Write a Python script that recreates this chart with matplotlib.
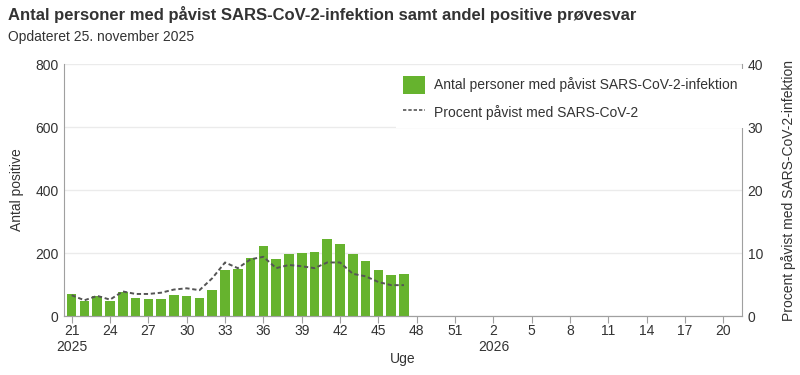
import matplotlib
matplotlib.use("Agg")
import matplotlib.pyplot as plt
from matplotlib.lines import Line2D
from matplotlib.patches import Patch

plt.rcParams['font.family'] = ['Liberation Sans', 'DejaVu Sans']

# Data
weeks_2025 = list(range(21, 53))
weeks_2026 = list(range(1, 22))
axis_weeks = weeks_2025 + weeks_2026
data_weeks = list(range(21, 48))
antal = [70, 48, 63, 48, 75, 57, 54, 54, 67, 63, 57, 83, 146, 149, 184, 222,
         181, 197, 200, 203, 244, 229, 197, 175, 146, 130, 133]
procent = [3.3, 2.5, 3.2, 2.6, 3.9, 3.5, 3.5, 3.7, 4.2, 4.4, 4.1, 6.0, 8.5, 7.6,
           9.0, 9.4, 7.6, 8.1, 7.9, 7.6, 8.5, 8.5, 6.7, 6.3, 5.4, 4.9, 4.9]
year_labels = {"2025": 21, "2026": 2}

bar_color = '#66b32e'
line_color = '#555555'
grid_color = '#ebebeb'
axis_color = '#a0a0a0'
text_color = '#333333'
fs = 10

fig = plt.figure(figsize=(8, 3.75), dpi=100)
ax = fig.add_axes([0.08, 0.1573, 0.8475, 0.672])
ax2 = ax.twinx()

xpos = [axis_weeks.index(w) for w in data_weeks]
ax.bar(xpos, antal, width=0.75, color=bar_color, zorder=3)
ax2.plot(xpos, procent, color=line_color, linestyle=(0, (2.2, 1.4)), linewidth=1.4, zorder=4)

ax.set_xlim(-0.6, 52.45)
ax.set_ylim(0, 800)
ax2.set_ylim(0, 40)
ax.set_yticks([0, 200, 400, 600, 800])
ax2.set_yticks([0, 10, 20, 30, 40])
ax.yaxis.grid(True, color=grid_color, linewidth=1, zorder=0)
ax.set_axisbelow(True)

tick_idx = list(range(0, len(axis_weeks), 3))
ax.set_xticks(tick_idx)
ax.set_xticklabels([str(axis_weeks[i]) for i in tick_idx])

for a in (ax, ax2):
    a.spines['top'].set_visible(False)
    a.spines['left'].set_color(axis_color)
    a.spines['right'].set_color(axis_color)
    a.spines['bottom'].set_color(axis_color)
    a.tick_params(axis='y', length=0, labelsize=fs, labelcolor=text_color, pad=4)
ax.tick_params(axis='x', length=5, color=axis_color, labelsize=fs, labelcolor=text_color, pad=1)
ax2.spines['left'].set_visible(False)
ax.spines['right'].set_visible(False)

# year labels
for yl, w in year_labels.items():
    idx = axis_weeks.index(w, 0 if yl == "2025" else 32)
    ax.text(idx, -0.096, yl, transform=ax.get_xaxis_transform(), ha='center', va='top',
            fontsize=fs, color=text_color)

ax.set_xlabel('Uge', fontsize=fs, color=text_color, labelpad=10)
ax.set_ylabel('Antal positive', fontsize=fs, color=text_color, labelpad=8)
ax2.set_ylabel('Procent påvist med SARS-CoV-2-infektion', fontsize=fs, color=text_color, labelpad=13)

fig.text(0.01, 0.985, 'Antal personer med påvist SARS-CoV-2-infektion samt andel positive prøvesvar',
         fontsize=12, fontweight='bold', color=text_color, ha='left', va='top')
fig.text(0.01, 0.92, 'Opdateret 25. november 2025', fontsize=fs, color=text_color, ha='left', va='top')

handles = [Patch(facecolor=bar_color, edgecolor='none'),
           Line2D([0], [0], color=line_color, linestyle=(0, (2, 1.2)), linewidth=1.2)]
labels = ['Antal personer med påvist SARS-CoV-2-infektion', 'Procent påvist med SARS-CoV-2']
leg = ax2.legend(handles, labels, loc='upper left', bbox_to_anchor=(396 / 800, 1 - 69 / 375),
                 bbox_transform=fig.transFigure, frameon=True,
                 fontsize=fs, handlelength=1.6, handleheight=1.6, labelspacing=0.7,
                 borderpad=0.5, handletextpad=0.6, labelcolor=text_color, borderaxespad=0)
leg.get_frame().set_edgecolor('none')
leg.get_frame().set_facecolor('white')
leg.get_frame().set_alpha(1.0)
leg.get_frame().set_boxstyle('square', pad=0)
leg.set_zorder(10)

fig.savefig('out.png', dpi=100)
